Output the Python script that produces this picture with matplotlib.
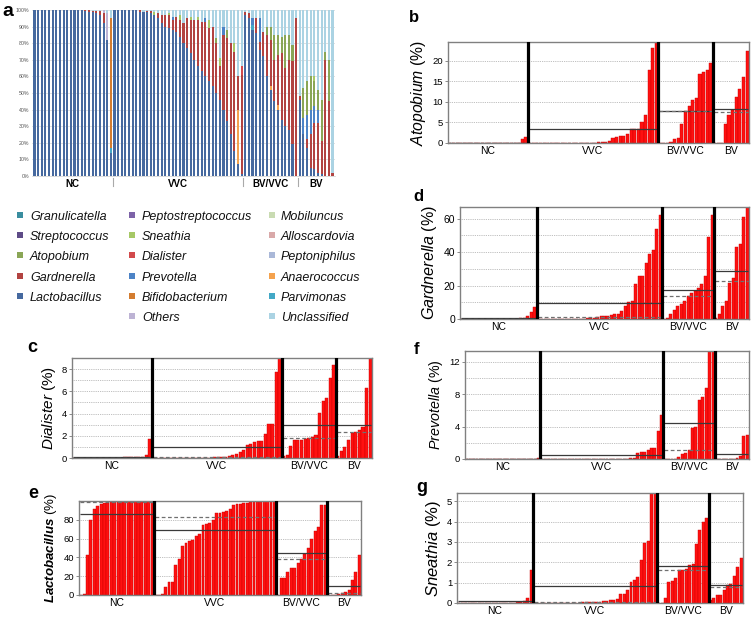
import numpy as np
import matplotlib
matplotlib.use("Agg")
import matplotlib.pyplot as plt
from matplotlib.patches import Rectangle
from matplotlib.transforms import blended_transform_factory

plt.rcParams['font.family'] = ['Liberation Sans', 'DejaVu Sans']
plt.rcParams['mathtext.fontset'] = 'custom'
plt.rcParams['mathtext.it'] = 'Liberation Sans:italic'
plt.rcParams['mathtext.rm'] = 'Liberation Sans'
plt.rcParams['mathtext.bf'] = 'Liberation Sans:bold'
plt.rcParams['mathtext.bfit'] = 'Liberation Sans:italic:bold'

# ---------------- data ----------------
groups = ["NC", "VVC", "BV/VVC", "BV"]

# panel b: Atopobium (%)
atop_nc = [0] * 20 + [1.0, 1.4]
atop_vvc = [0] * 18 + [0.1, 0.2, 0.3, 0.3, 0.5, 1.2, 1.4, 1.6, 1.8, 2.1,
                       3.3, 3.3, 3.4, 5.0, 6.7, 17.8, 23.0, 47.0]
atop_bvvvc = [0, 0, 0, 0.3, 1.0, 1.1, 4.7, 7.7, 9.0, 10.5, 10.9, 16.8, 17.3, 17.8, 19.4]
atop_bv = [0, 0, 0, 4.6, 6.8, 8.1, 11.2, 13.1, 16.0, 22.2]

# panel d: Gardnerella (%)
gard_nc = [0] * 16 + [0.2, 0.3, 0.4, 1.5, 4.0, 7.0]
gard_vvc = [0] * 14 + [0.3, 0.5, 0.8, 1.2, 1.5, 1.8, 2.0, 2.3, 2.7, 3.0, 4.5, 7.7,
                       10.0, 10.5, 21, 26, 26, 33.5, 39, 41, 54, 62]
gard_bvvvc = [0, 0.3, 3, 5.5, 7.5, 9, 11, 13.5, 15.5, 16.5, 18.5, 21, 26, 49, 62]
gard_bv = [0.5, 3, 7.5, 10.5, 21.5, 24.5, 43, 45, 61, 68]

# panel f: Prevotella (%)
prev_nc = [0] * 21 + [0.15]
prev_vvc = [0] * 23 + [0.05, 0.05, 0.05, 0.1, 0.15, 0.7, 0.9, 0.9, 1.1, 1.4, 1.4, 3.4, 5.4]
prev_bvvvc = [0, 0, 0, 0.05, 0.3, 0.6, 0.8, 1.1, 3.8, 4.0, 7.3, 7.6, 8.8, 14, 19]
prev_bv = [0, 0, 0, 0, 0, 0.05, 0.1, 0.35, 2.8, 2.9]

# panel c: Dialister (%)
dial_nc = [0] * 14 + [0.05, 0.05, 0.05, 0.05, 0.1, 0.1, 0.25, 1.7]
dial_vvc = [0] * 12 + [0.02, 0.02, 0.03, 0.03, 0.04, 0.05, 0.08, 0.1, 0.12, 0.15, 0.3, 0.4,
                       0.55, 0.7, 1.2, 1.3, 1.4, 1.5, 1.55, 2.2, 3.05, 3.05, 7.7, 9.5]
dial_bvvvc = [0.15, 0.25, 1.1, 1.6, 1.65, 1.65, 1.75, 1.8, 1.9, 2.05, 4.05, 5.15, 5.4, 7.2, 8.4]
dial_bv = [0.2, 0.65, 0.95, 1.65, 2.25, 2.35, 2.55, 2.75, 6.3, 10.3]

# panel e: Lactobacillus (%)
lact_nc = [0.5, 1, 43, 80, 91, 95, 96.5, 97.5, 98, 98.5, 99, 99.3, 99.5, 99.5, 99.6,
           99.7, 99.8, 99.8, 99.9, 99.9, 100, 100]
lact_vvc = [0.3, 0.5, 1, 9, 14, 14, 32, 38, 52, 55, 57, 59, 63, 65, 74, 76, 77, 80, 87,
            87.5, 88, 89, 91, 96, 96.5, 97, 97.5, 98, 98.5, 99, 99, 99.2, 99.5, 99.5, 99.7, 99.8]
lact_bvvvc = [0, 18, 18, 24, 28.5, 29, 34, 38, 43.5, 50, 60, 68, 72.5, 96, 96]
lact_bv = [0, 0, 0, 1, 2, 3, 5, 16, 24.5, 43]

# panel g: Sneathia (%)
sne_nc = [0] * 10 + [0.02] * 7 + [0.03, 0.05, 0.1, 0.27, 1.6]
sne_vvc = [0] * 8 + [0.02] * 6 + [0.04, 0.05, 0.05, 0.06, 0.07, 0.07, 0.08, 0.1, 0.13, 0.15,
                                  0.2, 0.42, 0.45, 0.62, 1.05, 1.15, 1.3, 2.12, 2.95, 3.05, 6, 10]
sne_bvvvc = [0, 0, 0.25, 1.05, 1.1, 1.25, 1.6, 1.62, 1.65, 1.88, 1.9, 2.9, 3.6, 4.0, 4.15]
sne_bv = [0.15, 0.25, 0.37, 0.4, 0.65, 0.9, 0.95, 1.32, 1.75, 2.2]

# panel a: relative abundance per sample (%), NC | VVC | BV/VVC | BV
comp_lactobacillus = ([100] * 14 + [99.5, 99, 98.5, 98, 97, 92, 82, 14]
    + [100, 100, 100, 100, 100, 100, 100, 99, 99, 99, 98, 97, 95, 92, 90, 89, 88, 87, 84, 80,
       77, 74, 70, 66, 63, 60, 57, 54, 50, 46, 40, 33, 25, 15, 7, 1]
    + [97, 95, 88, 86, 76, 72, 60, 52, 45, 40, 34, 30, 28, 19, 0]
    + [46, 25, 17, 5, 4, 2, 1, 0, 0, 0])
comp_parvimonas = ([0] * 21 + [3] + [0] * 36 + [0, 0, 3] + [0] * 12 + [0] * 10)
comp_bifidobacterium = ([0] * 21 + [78] + [0] * 36 + [0] * 15 + [0] * 10)
comp_anaerococcus = ([0] * 22 + [0] * 34 + [33, 0]
    + [0, 0, 0, 0, 0, 0, 0, 2, 0, 3, 0, 0, 0, 0, 0] + [0] * 10)
comp_gardnerella = ([0] * 14 + [0.5, 1, 1, 1.5, 2.5, 6, 0, 0]
    + [0, 0, 0, 0, 0, 0, 0, 1, 0, 0.5, 1.5, 0, 3, 5, 7, 8, 6, 9, 10, 12, 18, 20, 24, 28, 30,
       33, 32, 36, 30, 20, 45, 50, 55, 60, 20, 60]
    + [2, 3, 0, 9, 5, 15, 25, 28, 25, 30, 40, 35, 42, 50, 95]
    + [2, 0, 5, 20, 28, 30, 20, 70, 45, 2])
comp_prevotella = ([0] * 22
    + [0] * 16 + [2] + [0] * 8 + [2] + [0] * 4 + [5] + [0] * 5
    + [0, 0, 4, 0, 14, 0, 0, 0, 0, 0, 0, 0, 0, 0, 0]
    + [0, 10, 15, 15, 10, 8, 0, 0, 0, 0])
comp_atopobium = ([0] * 22
    + [0] * 28 + [3, 0, 0, 5, 0, 0, 0, 0]
    + [0, 0, 0, 0, 0, 0, 5, 8, 15, 12, 10, 20, 15, 10, 0]
    + [0, 18, 20, 20, 15, 12, 25, 5, 25, 0])
comp_sneathia = ([0] * 22
    + [0] * 11 + [2, 0, 0, 0, 1, 0, 0, 3, 0, 0, 2, 0, 2, 0, 0, 5, 0, 0, 5, 0, 0, 0, 5, 0, 0]
    + [0] * 15
    + [0, 0, 0, 0, 3, 0, 0, 0, 0, 0])
comp_dialister = ([0] * 22 + [0] * 35 + [5] + [0] * 15 + [0] * 10)
comp_others = ([0] * 19 + [2, 16, 0] + [0] * 36 + [0] * 15 + [0] * 10)
comp_unclassified = ([0] * 16 + [0.5, 0.5, 0.5, 0, 2, 5]
    + [0, 0, 0, 0, 0, 0, 0, 0, 1, 0.5, 0.5, 1, 2, 3, 3, 2, 4, 4, 3, 8, 5, 4, 6, 4, 7, 5, 6,
       10, 17, 29, 10, 12, 20, 20, 40, 34]
    + [1, 2, 5, 5, 5, 13, 10, 10, 15, 15, 16, 15, 15, 21, 5]
    + [52, 47, 43, 40, 40, 48, 54, 25, 30, 98])

legend_cols = [
    ["Granulicatella", "Streptococcus", "Atopobium", "Gardnerella", "Lactobacillus"],
    ["Peptostreptococcus", "Sneathia", "Dialister", "Prevotella", "Bifidobacterium", "Others"],
    ["Mobiluncus", "Alloscardovia", "Peptoniphilus", "Anaerococcus", "Parvimonas", "Unclassified"],
]
taxon_colors = {
    "Granulicatella": "#3a8d9f", "Streptococcus": "#5e4b87", "Atopobium": "#8aa656",
    "Gardnerella": "#b24341", "Lactobacillus": "#46699f", "Peptostreptococcus": "#7d63a8",
    "Sneathia": "#a6c866", "Dialister": "#d24a4c", "Prevotella": "#4d83c6",
    "Bifidobacterium": "#d37c30", "Others": "#bdb3d4", "Mobiluncus": "#c9dbb2",
    "Alloscardovia": "#d9a9a9", "Peptoniphilus": "#aab8d8", "Anaerococcus": "#f4a24e",
    "Parvimonas": "#43a8c6", "Unclassified": "#abd3e3",
}

# ---------------- figure ----------------
W, H = 754, 618
fig = plt.figure(figsize=(W / 100, H / 100), dpi=100)


def rect(x1, y1, x2, y2):
    return [x1 / W, 1 - y2 / H, (x2 - x1) / W, (y2 - y1) / H]


def letter(ch, x, y, fs):
    fig.text(x / W, 1 - y / H, ch, fontsize=fs, fontweight='bold', ha='center', va='center')


# ---- panel a ----
axa = fig.add_axes(rect(32, 10, 335, 176))
stack = [("Lactobacillus", comp_lactobacillus), ("Parvimonas", comp_parvimonas),
         ("Bifidobacterium", comp_bifidobacterium), ("Anaerococcus", comp_anaerococcus),
         ("Gardnerella", comp_gardnerella), ("Prevotella", comp_prevotella),
         ("Atopobium", comp_atopobium), ("Sneathia", comp_sneathia),
         ("Dialister", comp_dialister), ("Others", comp_others),
         ("Unclassified", comp_unclassified)]
n_all = len(comp_lactobacillus)
xa = np.arange(n_all)
bottom = np.zeros(n_all)
for name, vals in stack:
    v = np.array(vals, dtype=float)
    axa.bar(xa, v, bottom=bottom, width=0.58, color=taxon_colors[name], linewidth=0, zorder=2)
    bottom += v
axa.set_xlim(-0.7, n_all - 0.3)
axa.set_ylim(0, 100)
for gy in range(10, 101, 10):
    axa.axhline(gy, color='#d4d4d4', lw=0.5, zorder=1)
axa.set_yticks(range(0, 101, 10))
axa.set_yticklabels([f"{t}%" for t in range(0, 101, 10)])
axa.tick_params(axis='y', length=0, labelsize=3.8, labelcolor='#555555', pad=2)
axa.set_xticks([])
for s in ['top', 'right', 'left']:
    axa.spines[s].set_visible(False)
axa.spines['bottom'].set_color('#cccccc')
axa.spines['bottom'].set_linewidth(0.5)
sizes = [len(lact_nc), len(lact_vvc), len(lact_bvvvc), len(lact_bv)]
trans_a = blended_transform_factory(axa.transData, axa.transAxes)
start = 0
for i, g in enumerate(groups):
    end = start + sizes[i]
    axa.annotate(g, xy=((start + end - 1) / 2, 0), xycoords=trans_a, xytext=(0, -2.5),
                 textcoords='offset points', ha='center', va='top', fontsize=7,
                 fontweight='bold')
    if i < 3:
        axa.plot([end - 0.5, end - 0.5], [-0.01, -0.06], transform=trans_a,
                 color='#aaaaaa', lw=0.8, clip_on=False)
    start = end
letter('a', 8, 11, 14)

# ---- legend of panel a ----
col_x = [(17, 30), (129, 142), (269, 281)]
row_y = [217, 237, 257, 278, 298, 318]
for ci, names in enumerate(legend_cols):
    sx, tx = col_x[ci]
    for ri, nm in enumerate(names):
        y = row_y[ri]
        fig.add_artist(Rectangle((sx / W, 1 - (y + 1) / H), 6 / W, 6 / H,
                                 transform=fig.transFigure, color=taxon_colors[nm], lw=0))
        fig.text(tx / W, 1 - y / H, nm, fontsize=9.0, fontstyle='italic',
                 ha='left', va='center', color='#111111')


# ---- bar panels ----
def bar_panel(box, data_groups, top, ticks, gridstep, ylabel, label_fs, tick_fs, labelpad=3):
    ax = fig.add_axes(rect(*box))
    vals = np.concatenate([np.array(g, dtype=float) for g in data_groups])
    n = len(vals)
    x = np.arange(n)
    ax.bar(x, vals, width=0.86, color='#ff1010', edgecolor='#c80000', linewidth=0.3, zorder=2)
    ax.set_xlim(-0.5, n - 0.5)
    ax.set_ylim(0, top)
    for gy in np.arange(gridstep, top, gridstep):
        ax.axhline(gy, color='#a8a8a8', lw=0.6, ls=(0, (1, 1.2)), zorder=1)
    trans = blended_transform_factory(ax.transData, ax.transAxes)
    start = 0
    for i, g in enumerate(data_groups):
        end = start + len(g)
        m = np.mean(g)
        md = np.median(g)
        ax.hlines(m, start - 0.2, end - 0.8, color='#3a3a3a', lw=0.9, zorder=3)
        ax.hlines(md, start - 0.2, end - 0.8, color='#707070', lw=0.9, ls=(0, (3, 2)), zorder=3)
        ax.annotate(groups[i], xy=((start + end - 1) / 2, 0), xycoords=trans, xytext=(0, -2),
                    textcoords='offset points', ha='center', va='top', fontsize=7.5)
        if i < 3:
            ax.axvline(end - 0.5, color='black', lw=2.3, zorder=4)
        start = end
    ax.set_xticks([])
    ax.set_yticks(ticks)
    ax.tick_params(axis='y', length=2, width=0.6, color='#777777', labelsize=tick_fs, pad=1.5)
    for s in ax.spines.values():
        s.set_color('#808080')
        s.set_linewidth(1.0)
    ax.set_ylabel(ylabel, fontsize=label_fs, labelpad=labelpad)
    return ax


bar_panel((448, 42, 749, 143), [atop_nc, atop_vvc, atop_bvvvc, atop_bv], 24.5,
          [0, 5, 10, 15, 20], 5, r'$\mathit{Atopobium}$ (%)', 11.3, 6.8)
letter('b', 414, 17, 12)

bar_panel((460, 207, 749, 319), [gard_nc, gard_vvc, gard_bvvvc, gard_bv], 67,
          [0, 20, 40, 60], 10, r'$\mathit{Gardnerella}$ (%)', 11.6, 7.5)
letter('d', 418, 197, 12)

bar_panel((465, 351, 749, 459), [prev_nc, prev_vvc, prev_bvvvc, prev_bv], 13.3,
          [0, 4, 8, 12], 2, r'$\mathit{Prevotella}$ (%)', 10.3, 6.8)
letter('f', 417, 349, 12)

bar_panel((457, 493, 743, 603), [sne_nc, sne_vvc, sne_bvvvc, sne_bv], 5.4,
          [0, 1, 2, 3, 4, 5], 1, r'$\mathit{Sneathia}$ (%)', 12, 6.8)
letter('g', 422, 488, 13)

bar_panel((72, 358, 372, 458), [dial_nc, dial_vvc, dial_bvvvc, dial_bv], 9,
          [0, 2, 4, 6, 8], 1, r'$\mathit{Dialister}$ (%)', 11, 6.8)
letter('c', 32, 347, 13)

bar_panel((79, 501, 361, 595), [lact_nc, lact_vvc, lact_bvvvc, lact_bv], 100,
          [0, 20, 40, 60, 80], 20, r'$\mathbfit{Lactobacillus}$ (%)', 9.5, 6.8)
letter('e', 33, 493, 13)

fig.savefig("out.png", dpi=100)
